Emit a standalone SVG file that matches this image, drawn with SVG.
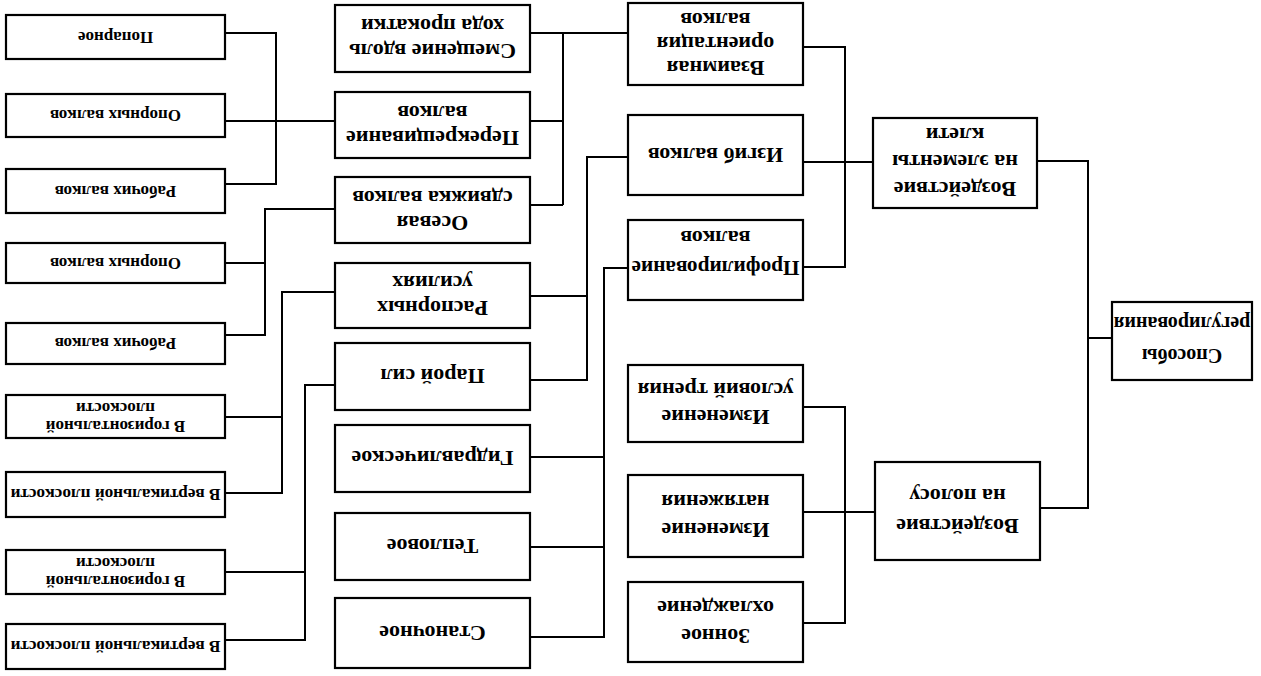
<svg xmlns="http://www.w3.org/2000/svg" width="1261" height="676" viewBox="0 0 1261 676">
<style>
.box{fill:#fff;stroke:#000;stroke-width:2.2}
.t{font-family:"Liberation Serif","Times New Roman",serif;font-weight:bold;fill:#000;text-anchor:middle;dominant-baseline:central}
.s{font-size:17px}
.m{font-size:22px}
.r{font-size:20px}
.c path{fill:none;stroke:#000;stroke-width:2}
</style>
<rect width="1261" height="676" fill="#fff"/>
<g class="c" id="connectors">
<path d="M225 33H276V184H225M225 121H335"/>
<path d="M225 263H265M225 335H265V209H335"/>
<path d="M225 417H282M225 493H282V292H335"/>
<path d="M225 572H305M225 640H305V385H335"/>
<path d="M530 33H628M530 121H563M530 205H563M563 33V205"/>
<path d="M628 157H587V380H530M530 296H587"/>
<path d="M628 268H604V637H530M530 457H604M530 547H604"/>
<path d="M803 47H845V267H803M803 162H873"/>
<path d="M803 407H845V623H803M803 512H875"/>
<path d="M1037 161H1088V508H1040M1088 338H1112"/>
</g>
<g id="n1"><rect class="box" x="6" y="15" width="219" height="44"/><g transform="rotate(180 115.5 37)"><text class="t s" x="115.5" y="37">Попарное</text></g></g>
<g id="n2"><rect class="box" x="6" y="94" width="219" height="43"/><g transform="rotate(180 115.5 115.5)"><text class="t s" x="115.5" y="115.5">Опорных валков</text></g></g>
<g id="n3"><rect class="box" x="6" y="169" width="219" height="44"/><g transform="rotate(180 115.5 191)"><text class="t s" x="115.5" y="191">Рабочих валков</text></g></g>
<g id="n4"><rect class="box" x="6" y="243" width="219" height="40"/><g transform="rotate(180 115.5 263)"><text class="t s" x="115.5" y="263">Опорных валков</text></g></g>
<g id="n5"><rect class="box" x="6" y="323" width="219" height="41"/><g transform="rotate(180 115.5 343.5)"><text class="t s" x="115.5" y="343.5">Рабочих валков</text></g></g>
<g id="n6"><rect class="box" x="6" y="395" width="219" height="43"/><g transform="rotate(180 115.5 416.5)"><text class="t s" x="115.5" y="407">В горизонтальной</text><text class="t s" x="115.5" y="425">плоскости</text></g></g>
<g id="n7"><rect class="box" x="6" y="472" width="219" height="45"/><g transform="rotate(180 115.5 494.5)"><text class="t s" x="115.5" y="494.5" textLength="210" lengthAdjust="spacingAndGlyphs">В вертикальной плоскости</text></g></g>
<g id="n8"><rect class="box" x="6" y="550" width="219" height="44"/><g transform="rotate(180 115.5 572)"><text class="t s" x="115.5" y="563">В горизонтальной</text><text class="t s" x="115.5" y="581">плоскости</text></g></g>
<g id="n9"><rect class="box" x="6" y="624" width="219" height="45"/><g transform="rotate(180 115.5 646.5)"><text class="t s" x="115.5" y="646.5" textLength="210" lengthAdjust="spacingAndGlyphs">В вертикальной плоскости</text></g></g>

<g id="n10"><rect class="box" x="335" y="5" width="195" height="67"/><g transform="rotate(180 432.5 38.5)"><text class="t m" x="432.5" y="26">Смещение вдоль</text><text class="t m" x="432.5" y="51">хода прокатки</text></g></g>
<g id="n11"><rect class="box" x="335" y="92" width="195" height="66"/><g transform="rotate(180 432.5 125)"><text class="t m" x="432.5" y="112">Перекрещивание</text><text class="t m" x="432.5" y="137">валков</text></g></g>
<g id="n12"><rect class="box" x="335" y="177" width="195" height="66"/><g transform="rotate(180 432.5 210)"><text class="t m" x="432.5" y="197">Осевая</text><text class="t m" x="432.5" y="222">сдвижка валков</text></g></g>
<g id="n13"><rect class="box" x="335" y="263" width="195" height="65"/><g transform="rotate(180 432.5 295.5)"><text class="t m" x="432.5" y="283">Распорных</text><text class="t m" x="432.5" y="308">усилиях</text></g></g>
<g id="n14"><rect class="box" x="335" y="343" width="195" height="67"/><g transform="rotate(180 432.5 376.5)"><text class="t m" x="432.5" y="376.5">Парой сил</text></g></g>
<g id="n15"><rect class="box" x="335" y="425" width="195" height="67"/><g transform="rotate(180 432.5 458.5)"><text class="t m" x="432.5" y="458.5">Гидравлическое</text></g></g>
<g id="n16"><rect class="box" x="335" y="513" width="195" height="67"/><g transform="rotate(180 432.5 546.5)"><text class="t m" x="432.5" y="546.5">Тепловое</text></g></g>
<g id="n17"><rect class="box" x="335" y="598" width="195" height="70"/><g transform="rotate(180 432.5 633)"><text class="t m" x="432.5" y="633">Станочное</text></g></g>

<g id="n18"><rect class="box" x="628" y="3" width="175" height="82"/><g transform="rotate(180 715.5 44)"><text class="t m" x="715.5" y="20">Взаимная</text><text class="t m" x="715.5" y="44">ориентация</text><text class="t m" x="715.5" y="68">валков</text></g></g>
<g id="n19"><rect class="box" x="628" y="115" width="175" height="80"/><g transform="rotate(180 715.5 155)"><text class="t m" x="715.5" y="155">Изгиб валков</text></g></g>
<g id="n20"><rect class="box" x="628" y="220" width="175" height="80"/><g transform="rotate(180 715.5 260)"><text class="t m" x="715.5" y="252" textLength="168" lengthAdjust="spacingAndGlyphs">Профилирование</text><text class="t m" x="715.5" y="282">валков</text></g></g>
<g id="n21"><rect class="box" x="628" y="365" width="175" height="77"/><g transform="rotate(180 715.5 403.5)"><text class="t m" x="715.5" y="390">Изменение</text><text class="t m" x="715.5" y="417">условий трения</text></g></g>
<g id="n22"><rect class="box" x="628" y="475" width="175" height="82"/><g transform="rotate(180 715.5 516)"><text class="t m" x="715.5" y="502">Изменение</text><text class="t m" x="715.5" y="530">натяжения</text></g></g>
<g id="n23"><rect class="box" x="628" y="582" width="175" height="80"/><g transform="rotate(180 715.5 622)"><text class="t m" x="715.5" y="608">Зонное</text><text class="t m" x="715.5" y="636">охлаждение</text></g></g>

<g id="n24"><rect class="box" x="873" y="118" width="164" height="90"/><g transform="rotate(180 955 163)"><text class="t m" x="955" y="137">Воздействие</text><text class="t m" x="955" y="164">на элементы</text><text class="t m" x="955" y="191">клети</text></g></g>
<g id="n25"><rect class="box" x="875" y="462" width="165" height="98"/><g transform="rotate(180 957.5 511)"><text class="t m" x="957.5" y="496">Воздействие</text><text class="t m" x="957.5" y="526">на полосу</text></g></g>

<g id="n26"><rect class="box" x="1112" y="302" width="140" height="78"/><g transform="rotate(180 1182 341)"><text class="t r" x="1182" y="326">Способы</text><text class="t r" x="1182" y="358">регулирования</text></g></g>
</svg>
